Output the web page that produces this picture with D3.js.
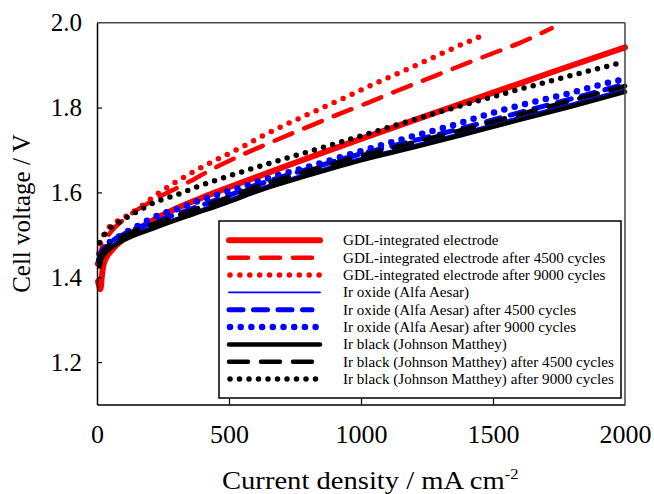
<!DOCTYPE html>
<html>
<head>
<meta charset="utf-8">
<script src="https://cdn.jsdelivr.net/npm/d3@7/dist/d3.min.js"></script>
<style>
  body { margin: 0; background: #fff; }
  svg { display: block; font-family: "Liberation Serif", "Times New Roman", serif; }
</style>
</head>
<body>
<svg id="chart" width="654" height="494"></svg>
<script>
'use strict';

// current density (mA cm-2) and cell voltage (V)
const gdlX = [4, 9, 13, 18, 24, 35, 55, 100, 200, 300, 400, 500, 750, 1000, 1250, 1500, 1750, 2000];
const gdlV = [1.39, 1.378, 1.372, 1.40, 1.428, 1.446, 1.463, 1.49, 1.53, 1.562, 1.588, 1.612, 1.67, 1.726, 1.781, 1.835, 1.889, 1.942];

const gdl4500X = [5, 12, 25, 50, 100, 200, 340, 441, 573, 655, 782, 902, 1021, 1135, 1249, 1350, 1500, 1600, 1722];
const gdl4500V = [1.43, 1.455, 1.48, 1.505, 1.535, 1.577, 1.622, 1.656, 1.695, 1.717, 1.75, 1.781, 1.81, 1.839, 1.867, 1.892, 1.928, 1.952, 1.987];

const gdl9000X = [2, 10, 30, 60, 100, 163, 232, 308, 377, 453, 561, 630, 782, 927, 1072, 1217, 1325, 1476];
const gdl9000V = [1.432, 1.47, 1.505, 1.525, 1.54, 1.565, 1.598, 1.628, 1.653, 1.677, 1.711, 1.734, 1.779, 1.82, 1.862, 1.902, 1.933, 1.974];

// Ir oxide (Alfa Aesar)
const iroxX = [10, 15, 25, 50, 100, 226, 352, 478, 617, 800, 996, 1200, 1375, 1600, 1800, 2000];
const iroxV = [1.43, 1.446, 1.457, 1.473, 1.492, 1.523, 1.551, 1.579, 1.611, 1.646, 1.681, 1.712, 1.74, 1.778, 1.81, 1.844];
const irox4500V = [1.443, 1.456, 1.466, 1.482, 1.501, 1.532, 1.56, 1.588, 1.62, 1.655, 1.69, 1.722, 1.75, 1.788, 1.821, 1.855];

const irox9000X = [8, 30, 81, 157, 232, 314, 390, 466, 548, 655, 775, 1009, 1160, 1324, 1552, 1779, 1975, 2000];
const irox9000V = [1.44, 1.47, 1.495, 1.522, 1.546, 1.563, 1.581, 1.597, 1.613, 1.635, 1.656, 1.699, 1.726, 1.754, 1.797, 1.832, 1.864, 1.867];

// Ir black (Johnson Matthey)
const irbX = [10, 15, 25, 50, 100, 226, 352, 478, 617, 800, 996, 1200, 1375, 1600, 1800, 2000];
const irbV = [1.425, 1.44, 1.452, 1.468, 1.487, 1.518, 1.546, 1.573, 1.605, 1.64, 1.675, 1.706, 1.734, 1.771, 1.803, 1.837];
const irb4500V = [1.44, 1.452, 1.462, 1.478, 1.497, 1.528, 1.556, 1.584, 1.616, 1.651, 1.686, 1.718, 1.746, 1.784, 1.817, 1.851];

const irb9000X = [10, 40, 75, 150, 220, 295, 371, 447, 516, 630, 920, 1300, 1678, 2000];
const irb9000V = [1.482, 1.51, 1.526, 1.554, 1.577, 1.593, 1.611, 1.628, 1.642, 1.664, 1.718, 1.79, 1.856, 1.908];

const xTicks = [0, 500, 1000, 1500, 2000];
const yTicks = [1.2, 1.4, 1.6, 1.8, 2.0];

const legendLabels = [
  "GDL-integrated electrode",
  "GDL-integrated electrode after 4500 cycles",
  "GDL-integrated electrode after 9000 cycles",
  "Ir oxide (Alfa Aesar)",
  "Ir oxide (Alfa Aesar) after 4500 cycles",
  "Ir oxide (Alfa Aesar) after 9000 cycles",
  "Ir black (Johnson Matthey)",
  "Ir black (Johnson Matthey) after 4500 cycles",
  "Ir black (Johnson Matthey) after 9000 cycles"
];

const zip = (xs, vs) => xs.map((d, i) => [d, vs[i]]);

// draw order = legend order
const series = [
  { pts: zip(gdlX, gdlV), color: '#ff0000', width: 6, dash: null },
  { pts: zip(gdl4500X, gdl4500V), color: '#ff0000', width: 4.5, dash: '19,13' },
  { pts: zip(gdl9000X, gdl9000V), color: '#ff0000', width: 5.5, dash: '0,9.9' },
  { pts: zip(iroxX, iroxV), color: '#0000ff', width: 1.8, dash: null },
  { pts: zip(iroxX, irox4500V), color: '#0000ff', width: 5, dash: '14,10.5' },
  { pts: zip(irox9000X, irox9000V), color: '#0000ff', width: 6.5, dash: '0,10.7' },
  { pts: zip(irbX, irbV), color: '#000000', width: 4.5, dash: null },
  { pts: zip(irbX, irb4500V), color: '#000000', width: 4.5, dash: '19,13' },
  { pts: zip(irb9000X, irb9000V), color: '#000000', width: 5.5, dash: '0,9.5' }
];

const svg = d3.select('#chart');
const pLeft = 97, pRight = 625, pTop = 22.7, pBottom = 404.5;

const x = d3.scaleLinear().domain([0, 2000]).range([pLeft, pRight]);
const y = d3.scaleLinear().domain([1.1, 2.0]).range([pBottom, pTop]);

const line = d3.line()
  .x(d => x(d[0]))
  .y(d => y(d[1]))
  .curve(d3.curveMonotoneX);

const plot = svg.append('g');
series.forEach(s => {
  plot.append('path')
    .attr('d', line(s.pts))
    .attr('fill', 'none')
    .attr('stroke', s.color)
    .attr('stroke-width', s.width)
    .attr('stroke-linecap', 'round')
    .attr('stroke-linejoin', 'round')
    .attr('stroke-dasharray', s.dash);
});

// frame: top and right in dark grey
svg.append('line').attr('x1', pLeft).attr('x2', pRight).attr('y1', pTop).attr('y2', pTop)
  .attr('stroke', '#444').attr('stroke-width', 1.5);
svg.append('line').attr('x1', pRight).attr('x2', pRight).attr('y1', pTop).attr('y2', pBottom)
  .attr('stroke', '#444').attr('stroke-width', 1.5);

// axes, ticks pointing inward
const xAxis = svg.append('g')
  .attr('transform', `translate(0,${pBottom})`)
  .call(d3.axisBottom(x).tickValues(xTicks).tickFormat(d3.format('d'))
    .tickSizeInner(-6).tickSizeOuter(0).tickPadding(20));
const yAxis = svg.append('g')
  .attr('transform', `translate(${pLeft},0)`)
  .call(d3.axisLeft(y).tickValues(yTicks).tickFormat(d3.format('.1f'))
    .tickSizeInner(-5).tickSizeOuter(0).tickPadding(15));

[xAxis, yAxis].forEach(g => {
  g.attr('font-family', null);
  g.select('.domain').attr('stroke', '#000').attr('stroke-width', 1.5);
  g.selectAll('.tick line').attr('stroke', '#000').attr('stroke-width', 1.2);
  g.selectAll('.tick text')
    .attr('fill', '#000')
    .style('font-family', '"Liberation Serif", "Times New Roman", serif')
    .style('font-size', '25px');
});
xAxis.selectAll('.tick text').style('font-size', '26px');
// the 0 / 2000 / 2.0 ticks sit on the frame
xAxis.selectAll('.tick line').filter(d => d === 0 || d === 2000).remove();
yAxis.selectAll('.tick line').filter(d => d === 2.0).remove();

// axis titles
svg.append('text')
  .attr('transform', `translate(30,${(pTop + pBottom) / 2}) rotate(-90)`)
  .attr('text-anchor', 'middle')
  .style('font-size', '25px')
  .text('Cell voltage / V');

// the x title is drawn a little wider in the original
const xt = svg.append('text')
  .attr('transform', 'translate(222,489) scale(1.1,1)')
  .style('font-size', '26px')
  .text('Current density / mA cm');
xt.append('tspan').attr('dy', -10).style('font-size', '15px').text('-2');

// legend
const lg = svg.append('g');
lg.append('rect')
  .attr('x', 219).attr('y', 221).attr('width', 402).attr('height', 177)
  .attr('fill', '#fff').attr('stroke', '#000').attr('stroke-width', 1.5);

const rowY = i => 240.3 + i * 17.35;
series.forEach((s, i) => {
  const dotted = s.dash && s.dash.startsWith('0');
  const x1 = dotted ? 230 : 229;
  const x2 = dotted ? 320 : (s.dash ? 312 : 320);
  lg.append('line')
    .attr('x1', x1).attr('x2', x2)
    .attr('y1', rowY(i)).attr('y2', rowY(i))
    .attr('stroke', s.color)
    .attr('stroke-width', s.width)
    .attr('stroke-linecap', 'round')
    .attr('stroke-dasharray', s.dash);
  lg.append('text')
    .attr('x', 343).attr('y', rowY(i))
    .attr('dominant-baseline', 'central')
    .style('font-size', '15.1px')
    .text(legendLabels[i]);
});
</script>
</body>
</html>
